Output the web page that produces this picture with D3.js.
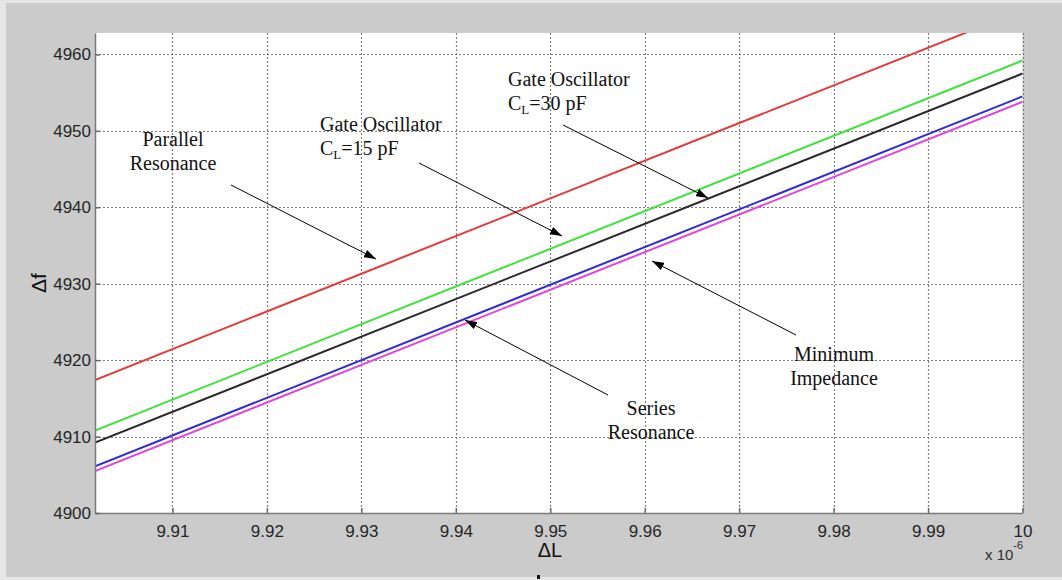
<!DOCTYPE html>
<html>
<head>
<meta charset="utf-8">
<script src="https://cdn.jsdelivr.net/npm/d3@7"></script>
<style>
  html, body { margin: 0; padding: 0; background: #e6e6e6; }
  svg { display: block; }
</style>
</head>
<body>
<svg id="chart" width="1062" height="580"></svg>
<script>
// data (inductance in units of 1e-6)
const inductance = [9.9018, 10.0];
const parallelResonance = [4917.4, 4965.8];
const gateOsc15 = [4910.8, 4959.2];
const gateOsc30 = [4909.2, 4957.5];
const seriesResonance = [4906.1, 4954.5];
const minImpedance = [4905.5, 4953.8];

const xTicks = [9.91, 9.92, 9.93, 9.94, 9.95, 9.96, 9.97, 9.98, 9.99, 10];
const yTicks = [4900, 4910, 4920, 4930, 4940, 4950, 4960];

const series = [
  { name: 'Parallel Resonance', values: parallelResonance, color: '#e8383a' },
  { name: 'Gate Oscillator CL=15 pF', values: gateOsc15, color: '#3fe23f' },
  { name: 'Gate Oscillator CL=30 pF', values: gateOsc30, color: '#2a2a2a' },
  { name: 'Series Resonance', values: seriesResonance, color: '#2b2bd8' },
  { name: 'Minimum Impedance', values: minImpedance, color: '#e045e0' }
];

// annotations: lines of text, text anchor, arrow tail and tip (pixel)
const notes = [
  { lines: ['Parallel', 'Resonance'], x: 173, y: 146, anchor: 'middle', from: [231, 185], to: [376, 259] },
  { lines: ['Gate Oscillator', 'C|L|=15 pF'], x: 320, y: 131, anchor: 'start', from: [419, 163], to: [562, 236] },
  { lines: ['Gate Oscillator', 'C|L|=30 pF'], x: 508, y: 86, anchor: 'start', from: [563, 125], to: [708, 198] },
  { lines: ['Series', 'Resonance'], x: 651, y: 415, anchor: 'middle', from: [608, 395], to: [465, 320] },
  { lines: ['Minimum', 'Impedance'], x: 834, y: 361, anchor: 'middle', from: [796, 335], to: [652, 261] }
];

const
  PLOT_LEFT = 95,
  PLOT_TOP = 33,
  PLOT_RIGHT = 1022.5,
  PLOT_BOTTOM = 513,
  TICK_SIZE = 5;

const svg = d3.select('#chart');

svg.append('rect')
  .attr('x', 6).attr('y', 3)
  .attr('width', 1056).attr('height', 574)
  .attr('fill', '#cbcbcb');

svg.append('rect')
  .attr('x', PLOT_LEFT).attr('y', PLOT_TOP)
  .attr('width', PLOT_RIGHT - PLOT_LEFT).attr('height', PLOT_BOTTOM - PLOT_TOP)
  .attr('fill', '#ffffff');

const xScale = d3.scaleLinear()
  .domain([9.9018, 10.0])
  .range([PLOT_LEFT, PLOT_RIGHT]);

const yScale = d3.scaleLinear()
  .domain([4900, 4962.8])
  .range([PLOT_BOTTOM, PLOT_TOP]);

// grid
const grid = svg.append('g').attr('class', 'grid')
  .attr('stroke', '#7c7c7c')
  .attr('stroke-width', 1.2)
  .attr('stroke-dasharray', '2,2');

grid.selectAll('.gx')
  .data(xTicks)
  .enter().append('line')
  .attr('x1', d => Math.round(xScale(d)) + 0.5)
  .attr('x2', d => Math.round(xScale(d)) + 0.5)
  .attr('y1', PLOT_TOP)
  .attr('y2', PLOT_BOTTOM);

grid.selectAll('.gy')
  .data(yTicks.filter(d => d > 4900))
  .enter().append('line')
  .attr('x1', PLOT_LEFT)
  .attr('x2', PLOT_RIGHT)
  .attr('y1', d => Math.round(yScale(d)) + 0.5)
  .attr('y2', d => Math.round(yScale(d)) + 0.5);

// series lines, clipped to the axes box
svg.append('clipPath').attr('id', 'plot-clip')
  .append('rect')
  .attr('x', PLOT_LEFT).attr('y', PLOT_TOP)
  .attr('width', PLOT_RIGHT - PLOT_LEFT).attr('height', PLOT_BOTTOM - PLOT_TOP);

const line = d3.line()
  .x(d => xScale(d[0]))
  .y(d => yScale(d[1]));

svg.append('g')
  .attr('clip-path', 'url(#plot-clip)')
  .selectAll('path')
  .data(series)
  .enter().append('path')
  .attr('d', s => line(inductance.map((l, i) => [l, s.values[i]])))
  .attr('fill', 'none')
  .attr('stroke', s => s.color)
  .attr('stroke-width', 2);

// axes
const xAxis = d3.axisBottom(xScale)
  .tickValues(xTicks)
  .tickFormat(d => d === 10 ? '10' : d3.format('.2f')(d))
  .tickSizeInner(-TICK_SIZE)
  .tickSizeOuter(0)
  .tickPadding(12);

const yAxis = d3.axisLeft(yScale)
  .tickValues(yTicks)
  .tickFormat(d3.format('d'))
  .tickSizeInner(-TICK_SIZE)
  .tickSizeOuter(0)
  .tickPadding(4);

const gx = svg.append('g')
  .attr('class', 'axis axis-x')
  .attr('transform', `translate(0,${PLOT_BOTTOM})`)
  .call(xAxis);

const gy = svg.append('g')
  .attr('class', 'axis axis-y')
  .attr('transform', `translate(${PLOT_LEFT},0)`)
  .call(yAxis);

[gx, gy].forEach(g => {
  g.attr('font-size', null).attr('font-family', null);
  g.select('.domain').attr('stroke', '#7a7a7a').attr('stroke-width', 1.5);
  g.selectAll('.tick line').attr('stroke', '#6a6a6a').attr('stroke-width', 1.5);
  g.selectAll('.tick text')
    .attr('fill', '#262626')
    .style('font-family', 'Liberation Sans, Arial, sans-serif')
    .style('font-size', '17px');
});

// axis labels
svg.append('text')
  .attr('x', 550).attr('y', 557)
  .attr('text-anchor', 'middle')
  .style('font-family', 'Liberation Sans, Arial, sans-serif')
  .style('font-size', '20px')
  .attr('fill', '#111')
  .text('ΔL');

svg.append('text')
  .attr('transform', 'translate(46,283) rotate(-90)')
  .attr('text-anchor', 'middle')
  .style('font-family', 'Liberation Sans, Arial, sans-serif')
  .style('font-size', '21px')
  .attr('fill', '#111')
  .text('Δf');

const expo = svg.append('text')
  .attr('x', 985).attr('y', 560)
  .style('font-family', 'Liberation Sans, Arial, sans-serif')
  .style('font-size', '15px')
  .attr('fill', '#2e2e2e');
expo.append('tspan').text('x 10');
expo.append('tspan').attr('dy', -11).style('font-size', '11px').text('-6');

// stray mark below the axis label
svg.append('rect')
  .attr('x', 537).attr('y', 575)
  .attr('width', 3).attr('height', 4)
  .attr('fill', '#111');

// annotations
svg.append('defs').append('marker')
  .attr('id', 'arrow')
  .attr('viewBox', '0 0 12 8')
  .attr('refX', 12).attr('refY', 4)
  .attr('markerWidth', 12).attr('markerHeight', 8)
  .attr('markerUnits', 'userSpaceOnUse')
  .attr('orient', 'auto')
  .append('path')
  .attr('d', 'M0,0 L12,4 L0,8 Z')
  .attr('fill', '#000');

const ann = svg.append('g').attr('class', 'annotations');

notes.forEach(n => {
  ann.append('line')
    .attr('x1', n.from[0]).attr('y1', n.from[1])
    .attr('x2', n.to[0]).attr('y2', n.to[1])
    .attr('stroke', '#000')
    .attr('stroke-width', 1)
    .attr('marker-end', 'url(#arrow)');

  n.lines.forEach((ln, i) => {
    const t = ann.append('text')
      .attr('x', n.x)
      .attr('y', n.y + i * 24)
      .attr('text-anchor', n.anchor)
      .style('font-family', 'Liberation Serif, Times New Roman, serif')
      .style('font-size', '20px')
      .attr('fill', '#111');
    // 'C|L|=...' marks a subscript
    const parts = ln.split('|');
    if (parts.length === 3) {
      t.append('tspan').text(parts[0]);
      t.append('tspan').attr('dy', 4).style('font-size', '13px').text(parts[1]);
      t.append('tspan').attr('dy', -4).text(parts[2]);
    } else {
      t.text(ln);
    }
  });
});
</script>
</body>
</html>
